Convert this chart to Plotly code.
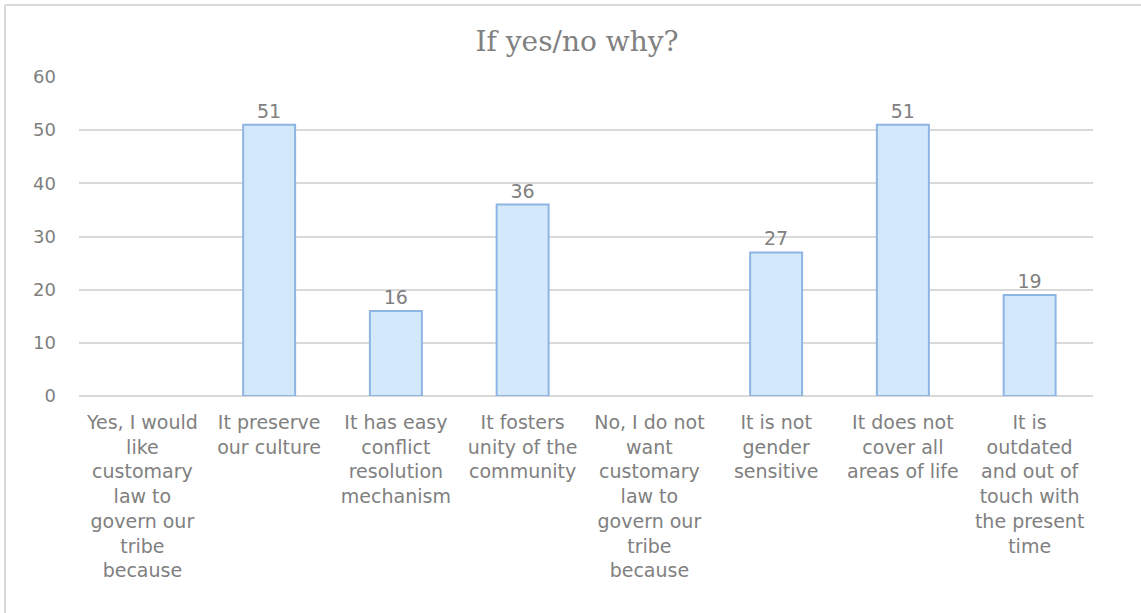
import plotly.graph_objects as go

categories = [
    "Yes, I would<br>like<br>customary<br>law to<br>govern our<br>tribe<br>because",
    "It preserve<br>our culture",
    "It has easy<br>conflict<br>resolution<br>mechanism",
    "It fosters<br>unity of the<br>community",
    "No, I do not<br>want<br>customary<br>law to<br>govern our<br>tribe<br>because",
    "It is not<br>gender<br>sensitive",
    "It does not<br>cover all<br>areas of life",
    "It is<br>outdated<br>and out of<br>touch with<br>the present<br>time",
]
values = [None, 51, 16, 36, None, 27, 51, 19]
y_ticks = [0, 10, 20, 30, 40, 50, 60]

W, H = 1141, 613
ml, mr, mt, mb = 79, W - 1093, 77, H - 396

fig = go.Figure(
    go.Bar(
        x=list(range(len(categories))),
        y=values,
        width=0.41,
        marker=dict(color="#D4E8FC", line=dict(color="#8EB4E3", width=2)),
        text=[("" if v is None else str(v)) for v in values],
        textposition="outside",
        cliponaxis=False,
        textfont=dict(family="DejaVu Sans", size=19, color="#808080"),
    )
)

pw = W - ml - mr
ph = H - mt - mb
fig.update_layout(
    width=W,
    height=H,
    margin=dict(l=ml, r=mr, t=mt, b=mb),
    paper_bgcolor="white",
    plot_bgcolor="white",
    showlegend=False,
    title=dict(
        text="If yes/no why?",
        x=(577 - ml) / pw,
        xanchor="center",
        xref="paper",
        y=1 - 41 / H,
        yanchor="middle",
        font=dict(family="DejaVu Serif", size=28, color="#808080"),
    ),
    xaxis=dict(
        tickmode="array",
        tickvals=list(range(len(categories))),
        ticktext=categories,
        range=[-0.5, len(categories) - 0.5],
        showgrid=False,
        showline=False,
        zeroline=False,
        ticks="",
        tickangle=0,
        ticklabelstandoff=13,
        tickfont=dict(family="DejaVu Sans", size=19, color="#808080"),
    ),
    yaxis=dict(
        range=[0, 60],
        tickvals=y_ticks,
        showgrid=True,
        gridcolor="#D9D9D9",
        gridwidth=2,
        zeroline=True,
        zerolinecolor="#D9D9D9",
        zerolinewidth=2,
        showline=False,
        ticks="",
        ticklabelstandoff=22,
        tickfont=dict(family="DejaVu Sans", size=18, color="#808080"),
    ),
    shapes=[
        dict(type="line", xref="paper", yref="paper",
             x0=(5 - ml) / pw, x1=(W + 5 - ml) / pw,
             y0=1 + (mt - 5) / ph, y1=1 + (mt - 5) / ph,
             line=dict(color="#D9D9D9", width=2)),
        dict(type="line", xref="paper", yref="paper",
             x0=(5 - ml) / pw, x1=(5 - ml) / pw,
             y0=1 + (mt - 5) / ph, y1=-(mb + 5) / ph,
             line=dict(color="#D9D9D9", width=2)),
    ],
)

fig.write_html(
    "out.html",
    config={"displayModeBar": False},
    post_script="document.body.style.margin='0';document.body.style.overflow='hidden';",
)
